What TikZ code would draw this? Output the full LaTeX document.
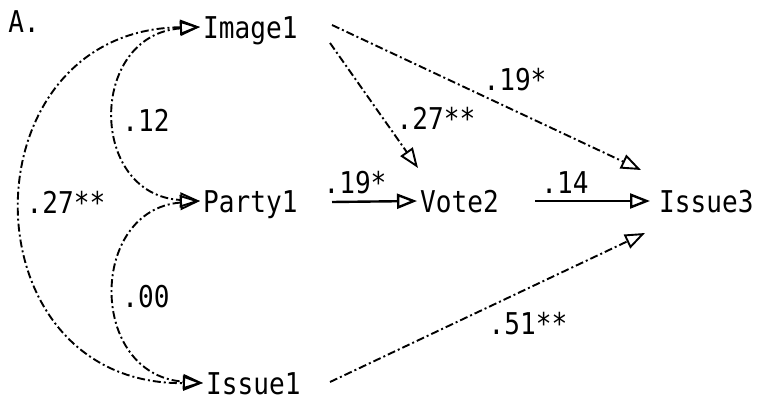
\documentclass[tikz,border=0pt]{standalone}
\usepackage{fontspec}
\newfontfamily\plotfont[FakeStretch=0.87]{DejaVu Sans Mono}
\usetikzlibrary{arrows.meta}
\begin{document}
\begin{tikzpicture}[x=1pt,y=-1pt,
  every node/.style={font=\plotfont\fontsize{30}{30}\selectfont},
  var/.style={anchor=west,inner ysep=0pt,inner xsep=3pt,text height=22pt,text depth=0pt},
  lab/.style={inner sep=0pt},
  tip/.style={-{Triangle[open,length=20pt,width=15pt]}},
  dtip/.style={{Triangle[open,length=20pt,width=15pt]}-{Triangle[open,length=20pt,width=15pt]}},
  dd/.style={line width=1.9pt,dash pattern=on 8pt off 3pt on 2pt off 3pt},
  solidln/.style={line width=2.4pt}]
\useasboundingbox (0,0) rectangle (759,404);
\node[lab] (A) at (24,22) {A.};
\node[var] (img) at (200,27) {Image1};
\node[var] (party) at (200,201) {Party1};
\node[var] (iss1) at (203,383) {Issue1};
\node[var] (vote) at (417,201) {Vote2};
\node[var,inner xsep=9pt] (iss3) at (650,201) {Issue3};
% curves
\draw[dd,dtip] (img.west) .. controls (88,35) and (88,195) .. (party.west);
\draw[dd,dtip] (party.west) .. controls (88,210) and (88,375) .. (iss1.west);
\draw[dd,dtip] (img.west) .. controls (-37,30) and (-37,385) .. (iss1.west);
\node[lab] (l12) at (146,120) {.12};
\node[lab] (l00) at (146,297) {.00};
\node[lab] (l27a) at (66,202) {.27**};
% straight
\draw[dd,tip] ([shift={(132,-2)}]img.west) -- ([shift={(-9,-31)}]iss3.west);
\draw[dd,tip] ([shift={(130,16)}]img.west) -- ([shift={(1,-33)}]vote.west);
\draw[solidln,tip] ([shift={(132,1)}]party.west) -- (vote.west);
\draw[solidln,tip] ([shift={(118,0)}]vote.west) -- (iss3.west);
\draw[dd,tip] ([shift={(127,-1)}]iss1.west) -- ([shift={(-5,32)}]iss3.west);
\node[lab] (l19a) at (515,80) {.19*};
\node[lab] (l27b) at (436,118) {.27**};
\node[lab] (l19b) at (355,183) {.19*};
\node[lab] (l14) at (565,183) {.14};
\node[lab] (l51) at (528,324) {.51**};
\end{tikzpicture}
\end{document}
